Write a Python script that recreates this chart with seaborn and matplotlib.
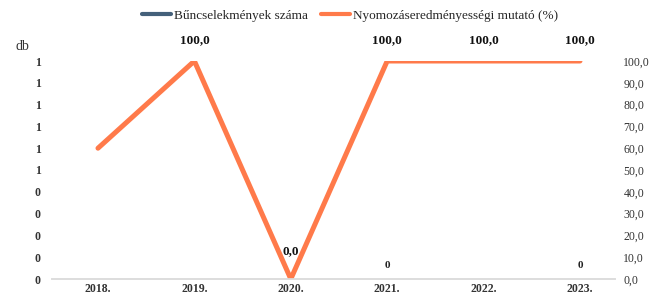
import matplotlib
matplotlib.use("Agg")
import matplotlib.pyplot as plt
import seaborn as sns
import pandas as pd
import numpy as np
from matplotlib.lines import Line2D
from matplotlib.ticker import FuncFormatter, MultipleLocator

years = ["2018.", "2019.", "2020.", "2021.", "2022.", "2023."]
counts = [0, 0, 0, 0, 0, 0]
count_labels_shown = [False, False, False, True, False, True]
rate = [60.0, 100.0, 0.0, 100.0, 100.0, 100.0]
rate_labels_shown = [False, True, True, True, True, True]

sns.set_theme(style="white")
plt.rcParams['font.family'] = ['Liberation Serif', 'DejaVu Serif']

bar_color = "#44607A"
line_color = "#FF7A4A"

fig = plt.figure(figsize=(6.6, 2.95), dpi=100)
ax = fig.add_axes([52/660, 1 - 279/295, (615-52)/660, (279-61)/295])

df = pd.DataFrame({"year": years, "count": counts, "rate": rate,
                   "pos": np.arange(len(years))})

sns.barplot(data=df, x="year", y="count", ax=ax, color=bar_color, width=0.5)
ax.set_ylim(0, 1)
ax.yaxis.set_major_locator(MultipleLocator(0.1))
ax.yaxis.set_major_formatter(FuncFormatter(lambda v, p: "%d" % int(np.floor(v + 0.5 + 1e-9))))
ax.set_xlabel("")
ax.set_ylabel("")
for i, (c, s) in enumerate(zip(counts, count_labels_shown)):
    if s:
        ax.text(i, c + 0.04, "%d" % c, ha="center", va="bottom", fontsize=8,
                fontweight="bold", color="#222222")

ax2 = ax.twinx()
sns.lineplot(data=df, x="pos", y="rate", ax=ax2, color=line_color, linewidth=3.6)
ax2.set_ylim(0, 100)
ax2.yaxis.set_major_locator(MultipleLocator(10))
ax2.yaxis.set_major_formatter(FuncFormatter(lambda v, p: ("%.1f" % v).replace(".", ",")))
ax2.set_xlabel("")
ax2.set_ylabel("")
for i, (r, s) in enumerate(zip(rate, rate_labels_shown)):
    if s:
        ax2.text(i, r + 7 if r > 50 else r + 10, ("%.1f" % r).replace(".", ","),
                 ha="center", va="bottom", fontsize=9.5, fontweight="bold", color="#111111")

ax.set_xlim(-0.477, 5.363)
ax2.set_xlim(-0.477, 5.363)

for a in (ax, ax2):
    for side in ("top", "left", "right"):
        a.spines[side].set_visible(False)
    a.spines["bottom"].set_color("#DDDDDD")
    a.tick_params(axis="y", length=0, labelsize=8.5, colors="#333333", pad=8)
ax.tick_params(axis="x", length=0, labelsize=8.5, pad=3)
for lab in ax.get_xticklabels():
    lab.set_fontweight("bold")
    lab.set_color("#333333")
for lab in ax.get_yticklabels():
    lab.set_fontweight("bold")
ax2.tick_params(axis="y", pad=6)

fig.text(15/660, 1 - 47/295, "db", fontsize=10, color="#333333", va="center")

handles = [Line2D([0], [0], color=bar_color, lw=3),
           Line2D([0], [0], color=line_color, lw=3)]
fig.legend(handles, ["Bűncselekmények száma", "Nyomozáseredményességi mutató (%)"],
           loc="center", bbox_to_anchor=(0.53, 1 - 16/295), ncol=2, frameon=False,
           fontsize=9.5, handlelength=2.2, columnspacing=1.0, handletextpad=0.2)

fig.savefig("out.png", dpi=100)
